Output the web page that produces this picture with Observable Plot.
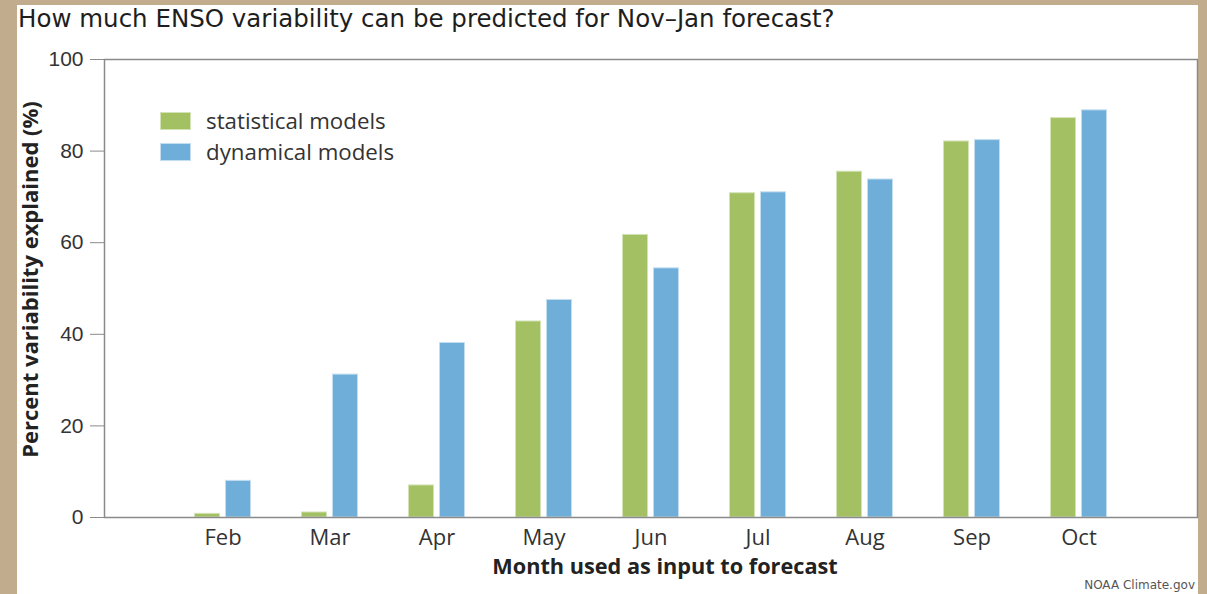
<!DOCTYPE html>
<html>
<head>
<meta charset="utf-8">
<script src="https://cdn.jsdelivr.net/npm/d3@7"></script>
<script src="https://cdn.jsdelivr.net/npm/@observablehq/plot@0.6"></script>
<style>
  html, body { margin: 0; padding: 0; }
  body { background: #c1ad8d; width: 1207px; height: 594px; overflow: hidden; position: relative; }
  #panel { position: absolute; left: 17px; top: 5px; width: 1181px; height: 600px; background: #fff; }
  #title { position: absolute; left: 1px; top: -1px; font-family: "DejaVu Sans", sans-serif; font-size: 24.5px; color: #1e1e1e; white-space: nowrap; }
  #chart { position: absolute; left: 0; top: 35px; }
  #legend { position: absolute; left: 143px; top: 100px; font-family: "Open Sans", sans-serif; font-size: 22.3px; color: #333; }
  .item { display: flex; align-items: center; height: 31px; }
  .sw { width: 31px; height: 18px; margin-right: 15px; box-sizing: border-box; }
  #caption { position: absolute; right: 3px; top: 573px; font-family: "DejaVu Sans", sans-serif; font-size: 12px; color: #555; }
  g[aria-label^="y-axis"] text { font-family: "Liberation Sans", Arial, sans-serif; font-size: 21px; }
  g[aria-label^="x-axis"] text { font-family: "Open Sans", sans-serif; font-size: 22px; }
</style>
</head>
<body>
<div id="panel">
  <div id="title">How much ENSO variability can be predicted for Nov–Jan forecast?</div>
  <div id="chart"></div>
  <div id="legend"></div>
  <div id="caption">NOAA Climate.gov</div>
</div>
<script>
const months = ["Feb", "Mar", "Apr", "May", "Jun", "Jul", "Aug", "Sep", "Oct"];
const statistical = [0.8, 1.1, 7.0, 42.8, 61.7, 70.8, 75.5, 82.1, 87.2];
const dynamical = [8.0, 31.2, 38.1, 47.5, 54.4, 71.0, 73.8, 82.4, 88.9];
const seriesNames = ["statistical models", "dynamical models"];
const seriesColors = ["#a3c063", "#6eaed9"];
const seriesStrokes = ["#d4e3b6", "#c4def1"];
const yTicks = [0, 20, 40, 60, 80, 100];
const xTitle = "Month used as input to forecast";
const yTitle = "Percent variability explained (%)";

const statRows = months.map((m, i) => ({month: m, value: statistical[i]}));
const dynRows = months.map((m, i) => ({month: m, value: dynamical[i]}));

const chart = Plot.plot({
  width: 1181,
  height: 554,
  marginLeft: 87,
  marginRight: 1,
  marginTop: 19,
  marginBottom: 77,
  style: {background: "transparent", color: "#333", fontSize: "21px", overflow: "visible"},
  x: {domain: months, padding: 0, insetLeft: 62.2, insetRight: 62.2, tickSize: 0, tickPadding: 12, label: null},
  y: {domain: [0, 100], ticks: yTicks, tickSize: 14, tickPadding: 7, label: null},
  marks: [
    Plot.barY(statRows, {x: "month", y: "value", fill: seriesColors[0], stroke: seriesStrokes[0], strokeWidth: 1, insetLeft: 25.5, insetRight: 56.5}),
    Plot.barY(dynRows, {x: "month", y: "value", fill: seriesColors[1], stroke: seriesStrokes[1], strokeWidth: 1, insetLeft: 56.5, insetRight: 25.5}),
    Plot.frame({stroke: "#8a8a8a", strokeWidth: 1.5}),
    Plot.text([xTitle], {frameAnchor: "bottom", dx: 14, dy: 56, fontWeight: "bold", fontSize: 21.7, fontFamily: "Open Sans, sans-serif", fill: "#222"}),
    Plot.text([yTitle], {frameAnchor: "left", textAnchor: "middle", dx: -74, dy: -9, rotate: -90, fontWeight: "bold", fontSize: 22, fontFamily: "Open Sans, sans-serif", fill: "#222"})
  ]
});
chart.querySelectorAll('g[aria-label^="y-axis"] line, g[aria-label^="y-axis"] path').forEach(e => { e.setAttribute("stroke", "#8a8a8a"); });
document.getElementById("chart").appendChild(chart);

const legend = document.getElementById("legend");
seriesNames.forEach((name, i) => {
  const item = document.createElement("div");
  item.className = "item";
  const sw = document.createElement("div");
  sw.className = "sw";
  sw.style.background = seriesColors[i];
  sw.style.border = "1px solid " + seriesStrokes[i];
  const label = document.createElement("span");
  label.textContent = name;
  item.appendChild(sw);
  item.appendChild(label);
  legend.appendChild(item);
});
</script>
</body>
</html>
